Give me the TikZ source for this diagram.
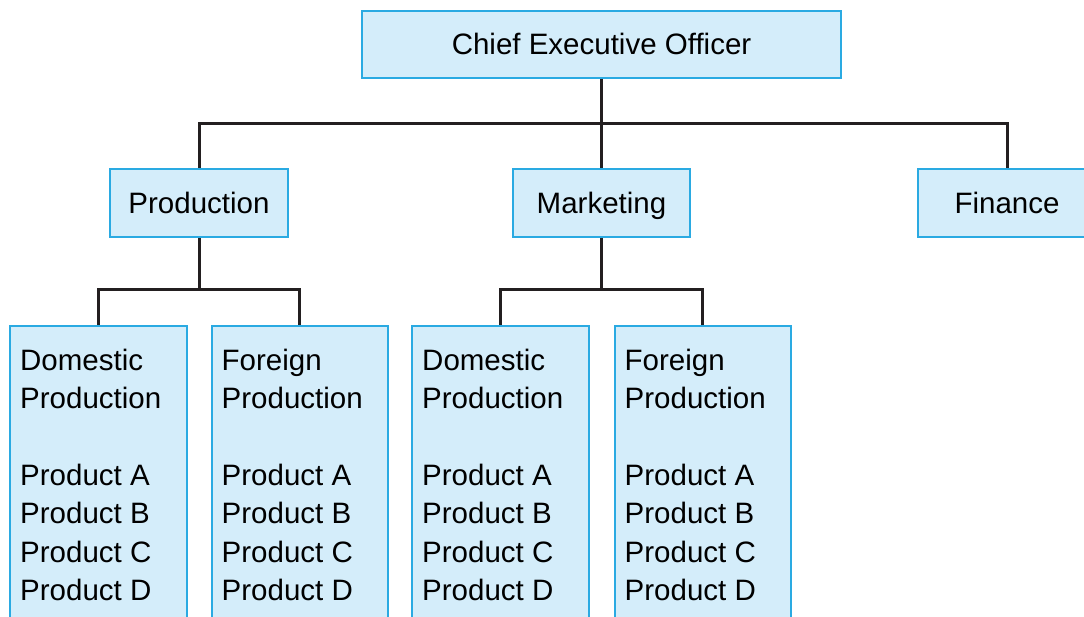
\documentclass[tikz,border=0pt]{standalone}
\usepackage{fontspec}
\setmainfont{Liberation Sans}
\usepackage{xcolor}
\usetikzlibrary{positioning}

\definecolor{boxfill}{HTML}{D4EDFA}
\definecolor{boxline}{HTML}{2AAAE2}
\definecolor{linkcol}{HTML}{231F20}

\begin{document}
\begin{tikzpicture}[
                x=1pt, y=1pt,
                font=\fontsize{29.5}{38.3}\selectfont,
                box/.style={draw=boxline, fill=boxfill, line width=2pt,
                    minimum width=177.5pt, minimum height=68pt, inner sep=0pt,
                    text height=21pt, text depth=0pt},
                lowbox/.style={box, minimum width=176.5pt, minimum height=330pt, anchor=north},
                boxtext/.style={align=left, anchor=north west, inner sep=0pt,
                    xshift=11pt, yshift=-24pt},
                link/.style={draw=linkcol, line width=3pt}
            ]
                \clip (0,0) rectangle (1084,616);

                % top of the chart
                \node[box, minimum width=479pt, minimum height=67pt] (ceo) at (601.5,571.5) {Chief Executive Officer};
                \node[box] (mkt) [below=89pt of ceo] {Marketing};
                \node[box] (prod) [left=223pt of mkt] {Production};
                \node[box] (fin) [right=226pt of mkt] {Finance};

                % lower boxes
                \node[lowbox] (dpa) at (98.25,291) {};
                \node[lowbox] (fpa) [right=23pt of dpa] {};
                \node[lowbox] (dpb) [right=22pt of fpa] {};
                \node[lowbox] (fpb) [right=24pt of dpb] {};

                \node[boxtext] (dpatext) at (dpa.north west) {Domestic\\Production\\[38.3pt]Product A\\Product B\\Product C\\Product D};
                \node[boxtext] (fpatext) at (fpa.north west) {Foreign\\Production\\[38.3pt]Product A\\Product B\\Product C\\Product D};
                \node[boxtext] (dpbtext) at (dpb.north west) {Domestic\\Production\\[38.3pt]Product A\\Product B\\Product C\\Product D};
                \node[boxtext] (fpbtext) at (fpb.north west) {Foreign\\Production\\[38.3pt]Product A\\Product B\\Product C\\Product D};

                % connectors
                \draw[link] (ceo) -- (mkt);
                \draw[link] (prod.north) -- ++(0,44) -| (fin.north);
                \draw[link] (prod) -- ++(0,-87) coordinate (prodbus);
                \draw[link] (dpa.north) |- (prodbus) -| (fpa.north);
                \draw[link] (mkt) -- ++(0,-87) coordinate (mktbus);
                \draw[link] (dpb.north) |- (mktbus) -| (fpb.north);
            \end{tikzpicture}
\end{document}
